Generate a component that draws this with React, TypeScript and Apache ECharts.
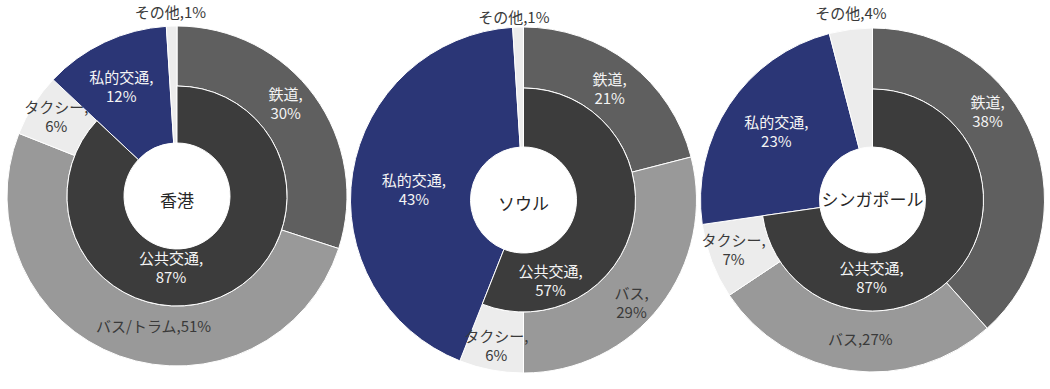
import React, { useEffect, useRef } from "react";
import * as echarts from "echarts";

// ---- data ----
const cityNames = ["香港", "ソウル", "シンガポール"];
const hkNames = ["鉄道", "バス/トラム", "タクシー", "私的交通", "その他"];
const seoulNames = ["鉄道", "バス", "タクシー", "私的交通", "その他"];
const sgNames = ["鉄道", "バス", "タクシー", "私的交通", "その他"];
const hkValues = [30, 51, 6, 12, 1];
const seoulValues = [21, 29, 6, 43, 1];
const sgValues = [38, 27, 7, 23, 4];
const publicName = "公共交通";
const publicShareLabels = [87, 57, 87];
// labels written on a single line (others wrap after the comma)
const singleLineLabels = [["バス/トラム", "その他"], ["その他"], ["バス", "その他"]];

// ---- styles / layout ----
const sliceColors = ["#5f5f5f", "#999999", "#ececec", "#2b3676", "#ececec"];
const sliceText = ["#f4f4f4", "#3a3a3a", "#3a3a3a", "#f4f4f4", "#3a3a3a"];
const innerColor = "#3c3c3c";
const FONT = "'Noto Sans CJK JP', 'Noto Sans', sans-serif";
const LABEL_SIZE = 15;
const LINE_H = 19;

const layouts = [
  {
    center: [177, 196], r0: 53, rm: 110, R: 170,
    offsets: [[-7, -9], [25, -5], [0, -3], [-7, -6], [-3, -70]],
    publicOffset: [-6, 71], cityOffset: [0, 3],
  },
  {
    center: [523.5, 200], r0: 53, rm: 112, R: 173,
    offsets: [[-3, 3], [-7, 13], [0, 2], [5, 7], [-6, -68]],
    publicOffset: [27, 80], cityOffset: [0, 2],
  },
  {
    center: [872.5, 200], r0: 53, rm: 111, R: 172,
    offsets: [[-20, -37], [6, -5], [-4, -3], [0, -5], [-7, -73]],
    publicOffset: [-1, 77], cityOffset: [0, -2],
  },
];

const allNames = [hkNames, seoulNames, sgNames];
const allValues = [hkValues, seoulValues, sgValues];

function buildSeries(ci: number): any[] {
  const names = allNames[ci];
  const values = allValues[ci];
  const lay = layouts[ci];
  const single = singleLineLabels[ci];
  const pubVal = values[0] + values[1] + values[2];
  const restVal = values[3] + values[4];
  const common = {
    type: "pie",
    center: lay.center,
    startAngle: 90,
    clockwise: true,
    silent: true,
    avoidLabelOverlap: false,
    labelLine: { show: false },
    emphasis: { disabled: true },
  };
  const hidden = { itemStyle: { color: "transparent", borderWidth: 0 }, label: { show: false } };
  const labelFor = (i: number) => ({
    show: true,
    position: "inside",
    offset: lay.offsets[i],
    color: sliceText[i],
    fontFamily: FONT,
    fontSize: LABEL_SIZE,
    lineHeight: LINE_H,
    formatter: single.includes(names[i])
      ? `${names[i]},${values[i]}%`
      : `${names[i]},\n${values[i]}%`,
  });
  const seriesA = {
    ...common,
    radius: [lay.rm, lay.R],
    data: names.map((n, i) =>
      i < 3
        ? {
            name: n,
            value: values[i],
            itemStyle: { color: sliceColors[i], borderColor: "#ffffff", borderWidth: 1 },
            label: labelFor(i),
          }
        : { name: n, value: values[i], ...hidden }
    ),
  };
  const seriesB = {
    ...common,
    radius: [lay.r0, lay.R],
    data: [
      { name: publicName, value: pubVal, ...hidden },
      ...[3, 4].map((i) => ({
        name: names[i],
        value: values[i],
        itemStyle: { color: sliceColors[i], borderColor: "#ffffff", borderWidth: 1 },
        label: labelFor(i),
      })),
    ],
  };
  const seriesC = {
    ...common,
    radius: [lay.r0, lay.rm],
    data: [
      {
        name: publicName,
        value: pubVal,
        itemStyle: { color: innerColor, borderColor: "#ffffff", borderWidth: 1 },
        label: {
          show: true,
          position: "center",
          offset: lay.publicOffset,
          color: "#f4f4f4",
          fontFamily: FONT,
          fontSize: LABEL_SIZE,
          lineHeight: LINE_H,
          formatter: `${publicName},\n${publicShareLabels[ci]}%`,
        },
      },
      {
        name: cityNames[ci],
        value: restVal,
        itemStyle: { color: "transparent", borderWidth: 0 },
        label: {
          show: true,
          position: "center",
          offset: lay.cityOffset,
          color: "#262626",
          fontFamily: FONT,
          fontSize: 17,
          formatter: cityNames[ci],
        },
      },
    ],
  };
  return [seriesA, seriesB, seriesC];
}

export default function App() {
  const ref = useRef<HTMLDivElement>(null);
  useEffect(() => {
    if (!ref.current) return;
    const chart = echarts.init(ref.current, undefined, { renderer: "svg" });
    chart.setOption({
      animation: false,
      backgroundColor: "#ffffff",
      series: [...buildSeries(0), ...buildSeries(1), ...buildSeries(2)],
    });
    return () => chart.dispose();
  }, []);
  return (
    <div
      ref={ref}
      style={{ position: "fixed", left: 0, top: 0, width: 1050, height: 389, background: "#fff" }}
    />
  );
}
